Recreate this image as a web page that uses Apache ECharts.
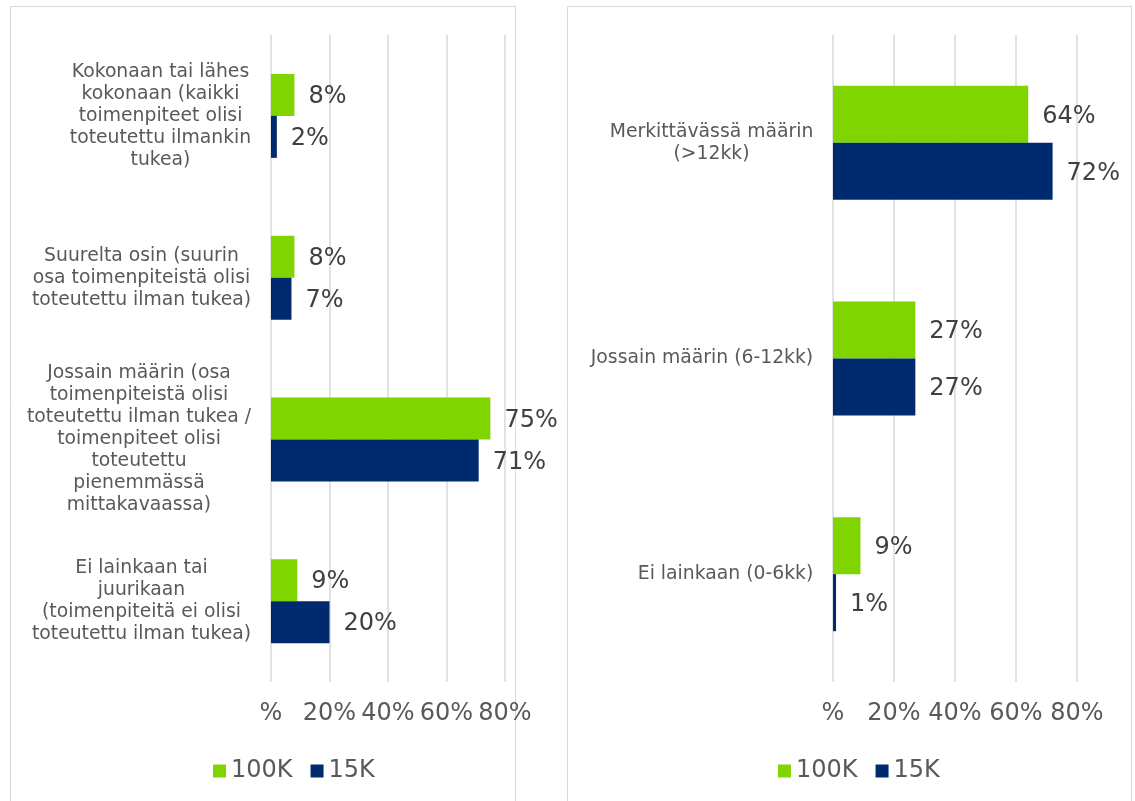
<!DOCTYPE html>
<html>
<head>
<meta charset="utf-8">
<script src="https://cdn.jsdelivr.net/npm/echarts@6/dist/echarts.min.js"></script>
<style>
html,body{margin:0;padding:0;background:#fff;}
#chart{width:1135px;height:801px;}
</style>
</head>
<body>
<div id="chart"></div>
<script>
// ---- data ----
const leftCategories = [
  "Kokonaan tai lähes\nkokonaan (kaikki\ntoimenpiteet olisi\ntoteutettu ilmankin\ntukea)",
  "Suurelta osin (suurin\nosa toimenpiteistä olisi\ntoteutettu ilman tukea)",
  "Jossain määrin (osa\ntoimenpiteistä olisi\ntoteutettu ilman tukea /\ntoimenpiteet olisi\ntoteutettu\npienemmässä\nmittakavaassa)",
  "Ei lainkaan tai\njuurikaan\n(toimenpiteitä ei olisi\ntoteutettu ilman tukea)"
];
const left100K = [8, 8, 75, 9];
const left15K = [2, 7, 71, 20];

const rightCategories = [
  "Merkittävässä määrin\n(>12kk)",
  "Jossain määrin (6-12kk)",
  "Ei lainkaan (0-6kk)"
];
const right100K = [64, 27, 9];
const right15K = [72, 27, 1];

const seriesNames = ["100K", "15K"];
const tickMax = 80;
const tickStep = 20;

// ---- styles ----
const GREEN = '#80D400';
const NAVY = '#002A70';
const TEXT = '#595959';
const FONT = '"DejaVu Sans", Verdana, sans-serif';
const CAT_SIZE = 18.8;

// measure widths so each multi-line label is centered within its own block, block right-aligned
const ctx = document.createElement('canvas').getContext('2d');
ctx.font = CAT_SIZE + 'px "DejaVu Sans"';
function blockWidth(text) {
  return Math.ceil(Math.max.apply(null, text.split('\n').map(l => ctx.measureText(l).width))) + 1;
}
function makeRich(cats, prefix) {
  const rich = {};
  cats.forEach((c, i) => {
    rich[prefix + i] = {width: blockWidth(c), align: 'center', fontSize: CAT_SIZE, lineHeight: 22, color: TEXT, fontFamily: FONT};
  });
  return rich;
}
function makeFormatter(cats, prefix) {
  return function (value) {
    const i = cats.indexOf(value);
    return value.split('\n').map(l => '{' + prefix + i + '|' + l + '}').join('\n');
  };
}

function xAxisCfg(gridIndex) {
  return {
    type: 'value', gridIndex: gridIndex, min: 0, max: tickMax, interval: tickStep,
    axisLine: {show: false}, axisTick: {show: false},
    splitLine: {show: true, lineStyle: {color: '#d9d9d9', width: 1.5}},
    axisLabel: {
      margin: 20, color: TEXT, fontSize: 24, fontFamily: FONT,
      formatter: v => v === 0 ? '%' : v + '%'
    }
  };
}
function yAxisCfg(gridIndex, cats, prefix) {
  return {
    type: 'category', gridIndex: gridIndex, data: cats, inverse: true,
    axisLine: {show: false}, axisTick: {show: false},
    axisLabel: {
      margin: 19, align: 'right', interval: 0,
      formatter: makeFormatter(cats, prefix),
      rich: makeRich(cats, prefix)
    }
  };
}
function barSeries(name, data, axisIdx, color, width) {
  return {
    name: name, type: 'bar', data: data,
    xAxisIndex: axisIdx, yAxisIndex: axisIdx,
    barWidth: width, barGap: '0%',
    itemStyle: {color: color},
    label: {
      show: true, position: 'right', distance: 14, offset: [0, 2],
      formatter: '{c}%', color: '#404040', fontSize: 24, fontFamily: FONT
    }
  };
}
function legendCfg(left) {
  return {
    data: seriesNames, left: left, top: 754, icon: 'rect',
    itemWidth: 13, itemHeight: 13, itemGap: 18,
    textStyle: {color: TEXT, fontSize: 24, fontFamily: FONT}
  };
}

const chart = echarts.init(document.getElementById('chart'), null, {renderer: 'canvas'});
chart.setOption({
  animation: false,
  backgroundColor: '#fff',
  textStyle: {fontFamily: FONT},
  graphic: [
    {type: 'rect', silent: true, shape: {x: 10.5, y: 6.5, width: 505, height: 800}, style: {fill: 'none', stroke: '#d9d9d9', lineWidth: 1}},
    {type: 'rect', silent: true, shape: {x: 567.5, y: 6.5, width: 564, height: 800}, style: {fill: 'none', stroke: '#d9d9d9', lineWidth: 1}}
  ],
  legend: [legendCfg(208), legendCfg(773)],
  grid: [
    {left: 271, top: 35, width: 234, height: 647},
    {left: 833, top: 35, width: 244, height: 647}
  ],
  xAxis: [xAxisCfg(0), xAxisCfg(1)],
  yAxis: [yAxisCfg(0, leftCategories, 'a'), yAxisCfg(1, rightCategories, 'b')],
  series: [
    barSeries(seriesNames[0], left100K, 0, GREEN, 42),
    barSeries(seriesNames[1], left15K, 0, NAVY, 42),
    barSeries(seriesNames[0], right100K, 1, GREEN, 57),
    barSeries(seriesNames[1], right15K, 1, NAVY, 57)
  ]
});
</script>
</body>
</html>
